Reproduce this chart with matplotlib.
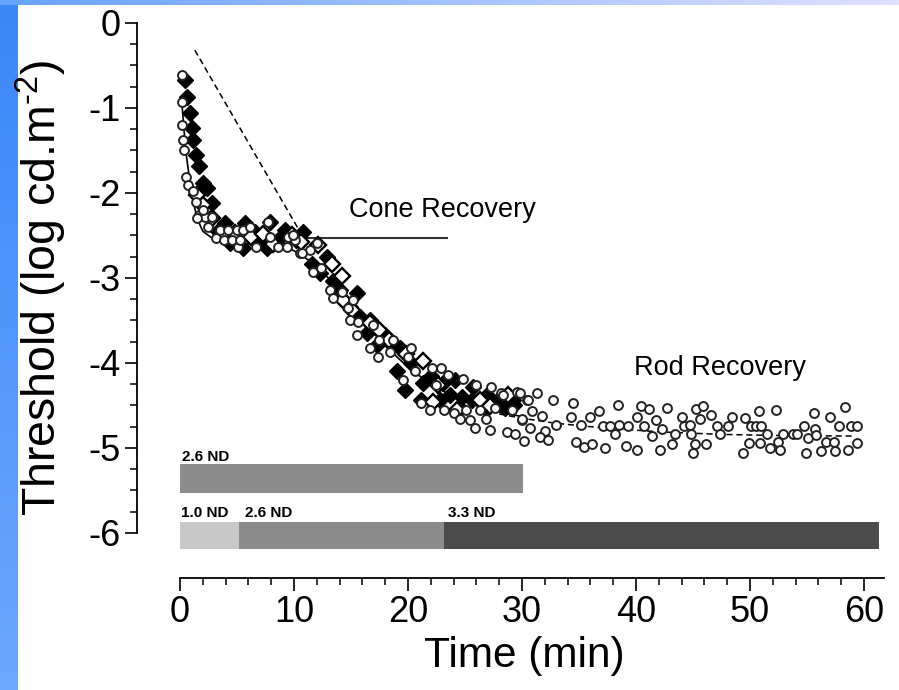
#!/usr/bin/env python3
"""Dark adaptation threshold recovery curve (cone + rod phases)."""

import numpy as np
import matplotlib
matplotlib.use("Agg")
import matplotlib.pyplot as plt

# -----------------------------
# Data
# -----------------------------
# filled diamonds
fd_x = [0.44, 0.58, 0.88, 1.02, 1.11, 1.40, 1.67, 2.02, 2.37, 2.78,
        3.3, 3.95, 4.4, 5.5, 5.7, 6.58, 6.9, 7.6, 7.9, 8.6, 9.2, 10.8,
        10.2, 11.6, 12.3, 12.9, 13.4, 14.0, 14.9, 15.5, 15.8, 16.4, 16.7,
        17.3, 18.0, 18.7, 19.3, 19.0, 19.7, 20.3, 21.1, 21.3, 22.0, 22.8,
        23.1, 23.7, 24.1, 24.6, 24.7, 25.6, 25.7, 26.8, 26.9, 28.1, 28.5,
        29.2, 29.3]
fd_y = [-0.67, -0.87, -1.06, -1.24, -1.38, -1.55, -1.68, -1.88, -1.94, -2.12,
        -2.45, -2.35, -2.59, -2.65, -2.35, -2.46, -2.55, -2.65, -2.34, -2.55,
        -2.44, -2.46,
        -2.55, -2.83, -2.94, -2.75, -3.04, -3.14, -3.34, -3.18, -3.46, -3.65,
        -3.49, -3.79, -3.67, -3.76, -3.82, -4.10, -4.32, -4.00, -4.44, -4.24,
        -4.15, -4.44, -4.24, -4.38, -4.20, -4.53, -4.40, -4.44, -4.28, -4.53,
        -4.38, -4.41, -4.53, -4.44, -4.50]

# open diamonds
od_x = [1.5, 2.0, 2.78, 3.7, 4.8, 6.2, 7.3, 8.2, 9.8, 10.6, 12.1, 13.3,
        14.2, 14.3, 15.1, 16.7, 17.5, 18.3, 19.8, 21.3, 22.2, 22.6, 24.3,
        26.3, 27.2, 28.8]
od_y = [-2.02, -2.14, -2.30, -2.50, -2.47, -2.52, -2.48, -2.60, -2.50, -2.58,
        -2.61, -2.83, -2.98, -3.26, -3.38, -3.53, -3.61, -3.73, -3.90, -3.98,
        -4.46, -4.26, -4.55, -4.44, -4.51, -4.38]

# open circles
oc_x = [0.15, 0.15, 0.15, 0.23, 0.35, 0.53, 0.73, 1.11, 1.40, 1.67, 2.19,
        2.78, 1.46, 2.0, 2.46,
        3.2, 3.5, 3.9, 4.2, 4.6, 5.0, 5.1, 5.3, 5.5, 6.1, 6.7, 7.7, 7.9,
        8.6, 9.4, 9.5, 10.1, 10.5, 11.4, 12.0, 11.7,
        9.9, 10.7, 12.4, 13.2, 13.4, 14.2, 14.7, 14.9, 15.2, 15.5, 15.6,
        16.7, 16.9, 17.4, 17.5, 18.4, 18.7,
        19.6, 20.0, 20.3, 20.6, 21.1, 21.9, 22.1, 22.5, 22.9, 23.2, 23.5,
        24.0, 24.6, 24.8, 25.1, 25.4, 25.9, 26.0, 26.3, 26.8, 27.2, 27.3,
        27.6, 28.2, 29.1, 29.6, 30.0, 30.4,
        28.3, 29.8, 31.3, 30.5, 32.7, 34.5, 30.9, 31.8, 30.0, 28.7, 29.4,
        30.2, 30.7, 32.0, 31.6, 32.3, 33.0, 34.3, 35.2, 34.7, 35.4, 36.1,
        36.0, 36.8, 38.4, 37.3, 37.1, 37.7, 38.2, 38.5, 39.3, 39.1, 40.1,
        40.4, 40.1, 40.7, 41.1, 41.8, 41.4, 42.1, 42.3, 42.7, 43.2, 43.4,
        44.0, 44.2, 44.7, 44.8, 45.0, 45.2, 45.3, 45.6, 45.9, 46.1, 46.6,
        47.1, 47.4, 48.1, 48.4, 49.4, 49.6, 49.9, 50.1, 50.5, 50.8, 50.9,
        51.0, 51.5, 51.8, 52.3, 52.5, 52.6, 52.9, 53.8, 54.1, 54.7, 54.9,
        55.1, 55.6, 55.7, 55.8, 56.2, 56.7, 57.0, 57.4, 57.5, 57.8, 58.3,
        58.6, 58.9, 59.4, 59.4]
oc_y = [-0.61, -0.93, -1.20, -1.38, -1.49, -1.81, -1.91, -1.98, -2.11, -2.26,
        -2.28, -2.28, -2.30, -2.20, -2.40,
        -2.53, -2.44, -2.55, -2.44, -2.55, -2.44, -2.63, -2.55, -2.44, -2.40,
        -2.63, -2.34, -2.52, -2.63, -2.63, -2.52, -2.55, -2.71, -2.67, -2.59,
        -2.93,
        -2.49, -2.71, -2.88, -3.14, -3.24, -3.16, -3.35, -3.49, -3.26, -3.67,
        -3.52, -3.82, -3.55, -3.93, -3.73, -3.87, -3.73,
        -4.20, -3.93, -3.82, -4.10, -4.47, -4.55, -4.06, -4.26, -4.06, -4.55,
        -4.14, -4.59, -4.66, -4.19, -4.55, -4.67, -4.77, -4.26, -4.55, -4.66,
        -4.79, -4.28, -4.53, -4.35, -4.55, -4.34, -4.67, -4.44,
        -4.38, -4.35, -4.35, -4.44, -4.44, -4.47, -4.56, -4.62, -4.66, -4.81,
        -4.84, -4.92, -4.77, -4.80, -4.87, -4.91, -4.73, -4.63, -4.73, -4.93,
        -4.99, -4.95, -4.63, -4.56, -4.49, -5.00, -4.74, -4.74, -4.84, -4.73,
        -4.74, -4.98, -4.63, -4.51, -5.02, -4.74, -4.54, -4.67, -4.86, -5.02,
        -4.78, -4.53, -4.95, -4.84, -4.63, -4.74, -4.73, -4.84, -5.06, -4.95,
        -4.54, -4.66, -4.51, -4.95, -4.61, -4.74, -4.84, -4.74, -4.64, -5.06,
        -4.65, -4.94, -4.74, -4.74, -4.56, -4.94, -4.74, -4.84, -5.00, -4.55,
        -4.93, -5.02, -4.84, -4.84, -4.84, -4.74, -5.06, -4.88, -4.59, -4.78,
        -4.85, -5.03, -4.93, -4.64, -4.93, -5.04, -4.74, -4.52, -5.02, -4.74,
        -4.74, -4.94]

# fitted curves
fit_x = [0.2, 0.5, 1.0, 1.5, 2.0, 3.0, 5.0, 7.0, 9.0, 10.0, 12.0, 14.0,
         16.0, 18.0, 20.0, 22.0, 24.0, 26.0, 28.0, 30.0]
fit_y = [-1.0, -1.5, -2.0, -2.3, -2.45, -2.55, -2.6, -2.6, -2.62, -2.68,
         -2.85, -3.15, -3.5, -3.8, -4.05, -4.25, -4.4, -4.5, -4.58, -4.63]
rod_x = [28.0, 30.0, 33.0, 36.8, 42.0, 47.4, 53.0, 59.2]
rod_y = [-4.60, -4.65, -4.71, -4.76, -4.81, -4.84, -4.855, -4.86]
slope_x = [1.3, 10.5]
slope_y = [-0.32, -2.45]
cone_x = [10.0, 23.4]
cone_y = [-2.53, -2.53]

# neutral density filter bars
top_bar_labels = ["2.6 ND"]
top_bar_start = [0.0]
top_bar_end = [30.1]
low_bar_labels = ["1.0 ND", "2.6 ND", "3.3 ND"]
low_bar_start = [0.0, 5.2, 23.2]
low_bar_end = [5.2, 23.2, 61.3]
low_bar_label_x = [0.1, 5.7, 23.5]

REGULAR = ["Liberation Sans", "DejaVu Sans"]
plt.rcParams["mathtext.fontset"] = "custom"
plt.rcParams["mathtext.rm"] = "Liberation Sans"
plt.rcParams["mathtext.it"] = "Liberation Sans"
plt.rcParams["font.family"] = REGULAR

fig = plt.figure(figsize=(8.99, 6.9), dpi=100)
fig.patch.set_facecolor("white")

# blue gradient frame on the left and top
bg = fig.add_axes([0, 0, 1, 1], zorder=-10)
bg.set_axis_off()
left_grad = np.linspace(0, 1, 100)[:, None, None]
left_img = (1 - left_grad) * np.array([0.23, 0.53, 0.97]) + left_grad * np.array([0.42, 0.66, 1.0])
bg.imshow(left_img, extent=(0, 18, 690, 0), aspect="auto")
top_grad = np.linspace(0, 1, 200)[None, :, None]
top_img = (1 - top_grad) * np.array([0.40, 0.64, 1.0]) + top_grad * np.array([0.88, 0.88, 1.0])
bg.imshow(top_img, extent=(0, 899, 5, 0), aspect="auto")
bg.set_xlim(0, 899)
bg.set_ylim(690, 0)

ax = fig.add_axes([0.1524, 0.1623, 0.834, 0.8044])
ax.set_xlim(-3.77, 62)
ax.set_ylim(-6.53, 0)

# filter bars
for s, e in zip(top_bar_start, top_bar_end):
    ax.barh(-5.36, e - s, left=s, height=0.34, color="#8c8c8c", zorder=1)
for lab, s in zip(top_bar_labels, top_bar_start):
    ax.text(s + 0.2, -5.11, lab, fontsize=11, fontweight="bold",
            va="center", ha="left")
low_colors = ["#c8c8c8", "#8c8c8c", "#4b4b4b"]
for s, e, c in zip(low_bar_start, low_bar_end, low_colors):
    ax.barh(-6.03, e - s, left=s, height=0.32, color=c, zorder=1)
for lab, lx in zip(low_bar_labels, low_bar_label_x):
    ax.text(lx, -5.77, lab, fontsize=11, fontweight="bold",
            va="center", ha="left")

# lines
ax.plot(slope_x, slope_y, color="black", lw=1.1, ls=(0, (4, 2.5)), zorder=2)
ax.plot(cone_x, cone_y, color="#333333", lw=1.5, zorder=2)
ax.plot(fit_x, fit_y, color="black", lw=1.2, zorder=2)
ax.plot(rod_x, rod_y, color="black", lw=1.1, ls=(0, (4, 2.5)), zorder=2)

# data points
ax.plot(fd_x, fd_y, "D", ms=8.5, mfc="black", mec="black", mew=1.0,
        ls="none", zorder=3)
ax.plot(od_x, od_y, "D", ms=7.8, mfc="white", mec="black", mew=1.7,
        ls="none", zorder=4)
ax.plot(oc_x, oc_y, "o", ms=6.4, mfc="white", mec="#222222", mew=1.4,
        ls="none", zorder=5)

# annotations
ax.text(14.8, -2.2, "Cone Recovery", fontsize=19.5, ha="left", va="center")
ax.text(39.8, -4.06, "Rod Recovery", fontsize=19.5, ha="left", va="center")

# axes styling
for side in ["top", "right"]:
    ax.spines[side].set_visible(False)
ax.spines["left"].set_bounds(-6, 0)
ax.spines["bottom"].set_bounds(0, 61.8)
ax.spines["left"].set_linewidth(1.3)
ax.spines["bottom"].set_linewidth(1.3)

ax.set_xticks(np.arange(0, 61, 10))
ax.set_xticks(np.arange(0, 61, 2), minor=True)
ax.set_yticks(np.arange(-6, 0.1, 1))
ax.set_yticks(np.arange(-6, 0.01, 0.25), minor=True)
ax.set_yticklabels([str(int(v)) for v in np.arange(-6, 0.1, 1)])

ax.tick_params(axis="both", which="major", direction="out", length=9,
               width=1.2, labelsize=26, pad=3)
ax.tick_params(axis="both", which="minor", direction="out", length=5,
               width=1.1)

ax.set_xlabel("Time (min)", fontsize=30.5)
ax.xaxis.set_label_coords(0.517, -0.104)
ax.set_ylabel(r"Threshold (log cd.m$^{\text{-}2}$)", fontsize=33.5)
ax.yaxis.set_label_coords(-0.091, 0.5225)

fig.savefig("out.png", dpi=100, facecolor="white")
